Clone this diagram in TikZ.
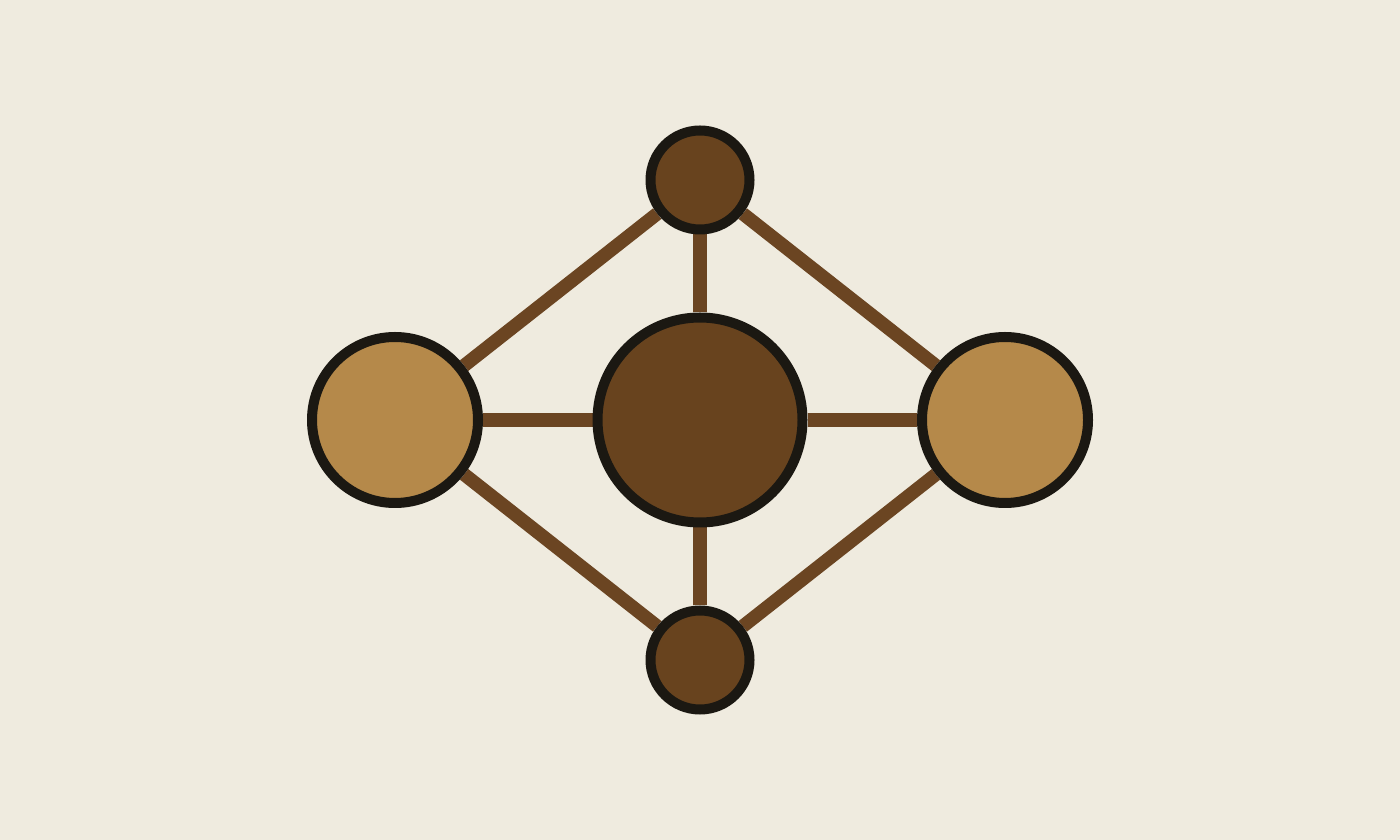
\documentclass[tikz,border=0pt]{standalone}
\usepackage{tikz}
\usetikzlibrary{positioning,backgrounds}
\definecolor{paper}{HTML}{EFEBDF}
\definecolor{darkbrown}{HTML}{68431E}
\definecolor{lightbrown}{HTML}{B5894A}
\definecolor{rim}{HTML}{1B1812}
\definecolor{bond}{HTML}{6B4522}
\begin{document}
\begin{tikzpicture}[
    atom/.style={circle, draw=rim, line width=0.2cm, inner sep=0pt},
    bond/.style={draw=bond, line width=0.27cm}
]
    % Atoms
    \node [atom, fill=darkbrown, minimum size=4.1cm] (core) at (14,8.4) {};
    \node [atom, fill=lightbrown, minimum size=3.32cm] (west) at (7.9,8.4) {};
    \node [atom, fill=lightbrown, minimum size=3.32cm] (east) at (20.1,8.4) {};
    \node [atom, fill=darkbrown, minimum size=1.98cm] (north) at (14,13.2) {};
    \node [atom, fill=darkbrown, minimum size=1.98cm] (south) at (14,3.6) {};

    \begin{scope}[on background layer]
        % Background
        \fill [paper] (0,0) rectangle (28,16.8);
        % Bonds
        \foreach \a/\b in {north/west, north/east, south/west, south/east,
                           north/core, south/core, west/core, east/core} {
            \draw [bond] (\a) -- (\b);
        }
    \end{scope}
\end{tikzpicture}
\end{document}
